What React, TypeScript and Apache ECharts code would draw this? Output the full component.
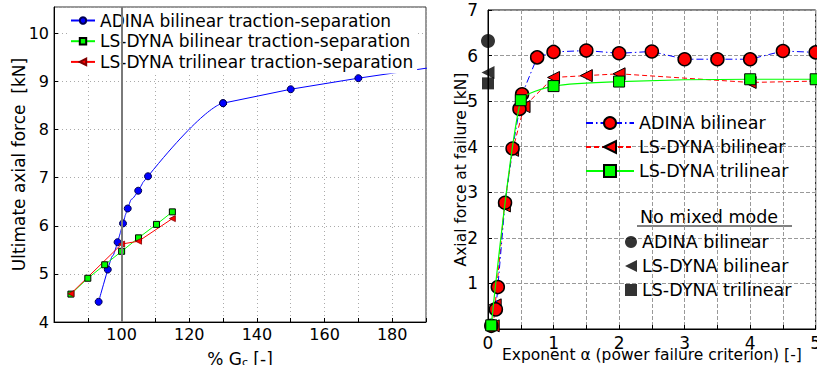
import React, { useEffect, useRef } from "react";
import * as echarts from "echarts";

// ---- Left chart data: % Gc vs ultimate axial force [kN]
// ADINA curve: smooth part (up to 130 %) and straight tail (from 130 %)
const gcAdinaRise = [93.2, 95.9, 98.8, 100.4, 101.8, 104.9, 107.8, 130];
const forceAdinaRise = [4.42, 5.09, 5.66, 6.05, 6.36, 6.73, 7.03, 8.55];
const gcAdinaTail = [130, 150, 170, 200];
const forceAdinaTail = [8.55, 8.84, 9.07, 9.38];
const gcLsBi = [85, 90, 95, 100, 105, 110.3, 115];
const forceLsBi = [4.58, 4.91, 5.19, 5.47, 5.75, 6.03, 6.29];
const gcLsTri = [85, 100, 105, 115];
const forceLsTri = [4.59, 5.62, 5.68, 6.15];
const refGc = [100];

// ---- Right chart data: exponent alpha vs axial force at failure [kN]
const alphaAdina = [0.05, 0.12, 0.15, 0.26, 0.375, 0.48, 0.52, 0.75, 1, 1.5, 2, 2.5, 3, 3.5, 4, 4.5, 5];
const failAdina = [0.07, 0.43, 0.92, 2.77, 3.96, 4.83, 5.15, 5.96, 6.08, 6.11, 6.05, 6.09, 5.92, 5.92, 5.92, 6.1, 6.07];
const alphaLsBi = [0.08, 0.11, 0.25, 0.375, 0.55, 1, 1.5, 2, 4, 5];
const failLsBi = [0.07, 0.53, 2.7, 3.92, 4.88, 5.52, 5.56, 5.6, 5.41, 5.44];
const alphaLsTri = [0.05, 0.5, 1, 2, 4, 5];
const failLsTri = [0.08, 5.02, 5.33, 5.43, 5.48, 5.48];
const noMixedAlpha = [0, 0, 0];
const noMixedForce = [6.32, 5.63, 5.39];

const legendLeft = [
  "ADINA bilinear traction-separation",
  "LS-DYNA bilinear traction-separation",
  "LS-DYNA trilinear traction-separation",
];
const legendRight = ["ADINA bilinear", "LS-DYNA bilinear", "LS-DYNA trilinear"];
const legendNoMixed = ["ADINA bilinear ", "LS-DYNA bilinear ", "LS-DYNA trilinear "];

const FONT = "DejaVu Sans";
const LEFT_TRI = "path://M0,5L10,0L10,10Z";
const zip = (xs: number[], ys: number[]) => xs.map((x, i) => [x, ys[i]]);

export default function App() {
  const ref = useRef<HTMLDivElement>(null);
  useEffect(() => {
    if (!ref.current) return;
    const chart = echarts.init(ref.current, undefined, { renderer: "svg" });
    const black = "#000";
    const adinaLeftStyle = {
      xAxisIndex: 0,
      yAxisIndex: 0,
      symbol: "circle",
      symbolSize: 7,
      lineStyle: { color: "#0000ff", width: 1 },
      itemStyle: { color: "#0000ff", borderColor: "#000050", borderWidth: 1 },
    };
    const option: any = {
      animation: false,
      backgroundColor: "#fff",
      textStyle: { fontFamily: FONT, color: black },
      grid: [
        {
          left: 54, right: 391, top: 7, bottom: 43, show: true, borderColor: "#333", borderWidth: 1,
          containLabel: false, outerBoundsMode: "none",
        },
        {
          left: 488, right: 1.3, top: 10, bottom: 36, show: true, borderColor: black, borderWidth: 1,
          containLabel: false, outerBoundsMode: "none",
        },
      ],
      xAxis: [
        {
          gridIndex: 0,
          type: "value",
          min: 80,
          max: 190,
          interval: 10,
          name: "% G{sub|c} [-]",
          nameLocation: "middle",
          nameGap: 27,
          nameMoveOverlap: false,
          nameTextStyle: {
            fontFamily: FONT,
            fontSize: 17,
            color: black,
            rich: { sub: { fontFamily: FONT, fontSize: 11, color: black, padding: [8, 0, 0, 0] } },
          },
          axisLine: { show: true, lineStyle: { color: black } },
          axisTick: { show: true, inside: true, length: 4, lineStyle: { color: black } },
          axisLabel: {
            fontFamily: FONT,
            fontSize: 16,
            color: black,
            margin: 4,
            formatter: (v: number) => (v % 20 === 0 && v >= 100 ? String(v) : ""),
          },
          splitLine: { show: true, lineStyle: { color: "#aaa", type: [1, 3] } },
        },
        {
          gridIndex: 1,
          type: "value",
          min: 0,
          max: 5,
          interval: 0.5,
          name: "Exponent α (power failure criterion) [-]",
          nameLocation: "middle",
          nameGap: 18,
          nameMoveOverlap: false,
          nameTextStyle: { fontFamily: FONT, fontSize: 15.5, color: black },
          axisLine: { show: true, lineStyle: { color: black } },
          axisTick: { show: true, inside: true, length: 4, lineStyle: { color: black } },
          axisLabel: {
            fontFamily: FONT,
            fontSize: 17,
            color: black,
            margin: 5,
            formatter: (v: number) => (Number.isInteger(v) ? String(v) : ""),
          },
          splitLine: { show: true, lineStyle: { color: "#999", type: [4, 2] } },
        },
      ],
      yAxis: [
        {
          gridIndex: 0,
          type: "value",
          min: 4,
          max: 10.55,
          interval: 1,
          name: "Ultimate axial force  [kN]",
          nameLocation: "middle",
          nameGap: 27,
          nameMoveOverlap: false,
          nameTextStyle: { fontFamily: FONT, fontSize: 17, color: black },
          axisLine: { show: true, lineStyle: { color: black } },
          axisTick: { show: true, inside: true, length: 4, lineStyle: { color: black } },
          axisLabel: {
            fontFamily: FONT,
            fontSize: 16,
            color: black,
            margin: 5,
            showMaxLabel: false,
            formatter: (v: number) => (Number.isInteger(v) ? String(v) : ""),
          },
          splitLine: { show: true, lineStyle: { color: "#aaa", type: [1, 3] } },
        },
        {
          gridIndex: 1,
          type: "value",
          min: 0,
          max: 7,
          interval: 1,
          name: "Axial force at failure [kN]",
          nameLocation: "middle",
          nameGap: 19,
          nameMoveOverlap: false,
          nameTextStyle: { fontFamily: FONT, fontSize: 15.5, color: black },
          axisLine: { show: true, lineStyle: { color: black } },
          axisTick: { show: true, inside: true, length: 4, lineStyle: { color: black } },
          axisLabel: {
            fontFamily: FONT,
            fontSize: 17,
            color: black,
            margin: 10,
            formatter: (v: number) => (v === 0 ? "" : String(v)),
          },
          splitLine: { show: true, lineStyle: { color: "#999", type: [4, 2] } },
        },
      ],
      legend: [
        {
          data: legendLeft,
          orient: "vertical",
          left: 67,
          top: 9,
          padding: [3, 4, 3, 3],
          itemGap: 3.7,
          itemWidth: 24,
          itemHeight: 8,
          backgroundColor: "#fff",
          textStyle: { fontFamily: FONT, fontSize: 17, color: black },
        },
        {
          data: legendRight,
          orient: "vertical",
          left: 585,
          top: 114,
          padding: 0,
          itemGap: 6,
          itemWidth: 48,
          itemHeight: 15,
          textStyle: { fontFamily: FONT, fontSize: 17.5, color: black },
        },
        {
          data: [
            { name: legendNoMixed[0], icon: "circle" },
            { name: legendNoMixed[1], icon: LEFT_TRI },
            { name: legendNoMixed[2], icon: "rect" },
          ],
          orient: "vertical",
          left: 625,
          top: 233,
          padding: 0,
          itemGap: 6,
          itemWidth: 12,
          itemHeight: 12,
          textStyle: { fontFamily: FONT, fontSize: 17.5, color: black },
        },
      ],
      graphic: [
        {
          type: "text",
          x: 709,
          y: 217,
          style: {
            text: "No mixed mode",
            font: `17.5px "${FONT}"`,
            fill: black,
            align: "center",
            verticalAlign: "middle",
          },
        },
        {
          type: "line",
          shape: { x1: 637, y1: 226, x2: 792, y2: 226 },
          style: { stroke: black, lineWidth: 1 },
        },
      ],
      series: [
        {
          name: legendLeft[0],
          type: "line",
          ...adinaLeftStyle,
          data: zip(gcAdinaRise, forceAdinaRise),
          smooth: 1,
        },
        {
          name: legendLeft[0],
          type: "line",
          ...adinaLeftStyle,
          data: zip(gcAdinaTail, forceAdinaTail),
        },
        {
          name: legendLeft[1],
          type: "line",
          xAxisIndex: 0,
          yAxisIndex: 0,
          data: zip(gcLsBi, forceLsBi),
          symbol: "rect",
          symbolSize: 6,
          lineStyle: { color: "#00ff00", width: 1 },
          itemStyle: { color: "#00ff00", borderColor: black, borderWidth: 1 },
        },
        {
          name: legendLeft[2],
          type: "line",
          xAxisIndex: 0,
          yAxisIndex: 0,
          data: zip(gcLsTri, forceLsTri),
          symbol: "triangle",
          symbolRotate: 90,
          symbolSize: 6,
          lineStyle: { color: "#ff0000", width: 1 },
          itemStyle: { color: "#ff0000", borderColor: "#800000", borderWidth: 0.8 },
        },
        {
          type: "line",
          xAxisIndex: 0,
          yAxisIndex: 0,
          data: [],
          markLine: {
            silent: true,
            symbol: "none",
            z: 6,
            label: { show: false },
            lineStyle: { color: "#7a7a7a", width: 2, type: "solid" },
            data: refGc.map((v) => ({ xAxis: v })),
          },
        },
        {
          name: legendRight[0],
          type: "line",
          xAxisIndex: 1,
          yAxisIndex: 1,
          data: zip(alphaAdina, failAdina),
          clip: false,
          symbol: "circle",
          symbolSize: 13,
          lineStyle: { color: "#0000ff", width: 1, type: [7, 3, 1.5, 3] },
          itemStyle: { color: "#ff0000", borderColor: black, borderWidth: 1.5 },
          z: 3,
        },
        {
          name: legendRight[1],
          type: "line",
          xAxisIndex: 1,
          yAxisIndex: 1,
          data: zip(alphaLsBi, failLsBi),
          clip: false,
          symbol: "triangle",
          symbolRotate: 90,
          symbolSize: 12,
          lineStyle: { color: "#ff0000", width: 1, type: [5, 3] },
          itemStyle: { color: "#ff0000", borderColor: black, borderWidth: 1 },
          z: 2,
        },
        {
          name: legendRight[2],
          type: "line",
          xAxisIndex: 1,
          yAxisIndex: 1,
          data: zip(alphaLsTri, failLsTri),
          clip: false,
          smooth: 0.2,
          symbol: "rect",
          symbolSize: 11,
          lineStyle: { color: "#00ff00", width: 1.2 },
          itemStyle: { color: "#00ff00", borderColor: black, borderWidth: 1 },
          z: 4,
        },
        {
          name: legendNoMixed[0],
          type: "scatter",
          xAxisIndex: 1,
          yAxisIndex: 1,
          clip: false,
          data: [[noMixedAlpha[0], noMixedForce[0]]],
          symbol: "circle",
          symbolSize: 14,
          itemStyle: { color: black },
          z: 5,
        },
        {
          name: legendNoMixed[1],
          type: "scatter",
          xAxisIndex: 1,
          yAxisIndex: 1,
          clip: false,
          data: [[noMixedAlpha[1], noMixedForce[1]]],
          symbol: "triangle",
          symbolRotate: 90,
          symbolSize: 13,
          itemStyle: { color: black },
          z: 5,
        },
        {
          name: legendNoMixed[2],
          type: "scatter",
          xAxisIndex: 1,
          yAxisIndex: 1,
          clip: false,
          data: [[noMixedAlpha[2], noMixedForce[2]]],
          symbol: "rect",
          symbolSize: 12,
          itemStyle: { color: black },
          z: 5,
        },
      ],
    };
    chart.setOption(option);
    return () => chart.dispose();
  }, []);
  return (
    <div
      ref={ref}
      style={{ position: "fixed", left: 0, top: 0, width: 817, height: 365, background: "#fff" }}
    />
  );
}
